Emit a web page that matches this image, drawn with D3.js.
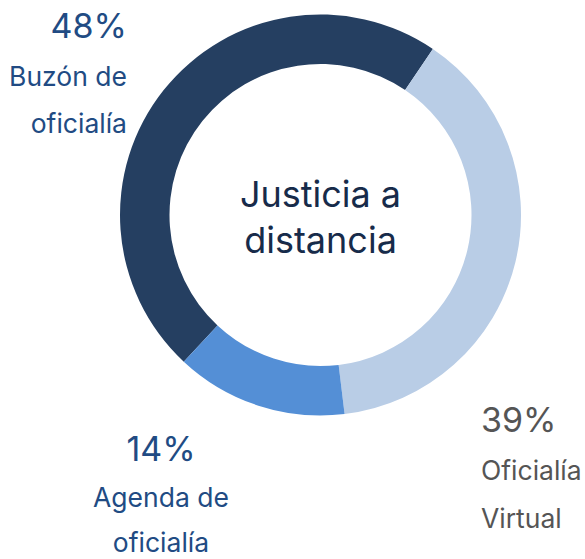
<!DOCTYPE html>
<html>
<head>
<meta charset="utf-8">
<script src="https://cdn.jsdelivr.net/npm/d3@7"></script>
<style>
body { margin: 0; background: #fff; }
text { font-family: Inter, "Open Sans", sans-serif; }
</style>
</head>
<body>
<svg id="Viz"></svg>
<script>
let categories = ["Buzón de oficialía", "Oficialía Virtual", "Agenda de oficialía"];
let values = [48, 39, 14];
let pctLabels = ["48%", "39%", "14%"];
let nameLines = [["Buzón de", "oficialía"], ["Oficialía", "Virtual"], ["Agenda de", "oficialía"]];
let colors = ["#253f61", "#b9cde6", "#548fd6"];
let textColors = ["#214b83", "#555555", "#214b83"];
let centerLines = ["Justicia a", "distancia"];

let Width = 585, Height = 559;
let cx = 320.5, cy = 215;
let outerR = 200.5, innerR = 151;

let vizArea = d3.select('#Viz')
  .attr("width", Width)
  .attr("height", Height);

let pie = d3.pie()
  .sort(null)
  .value(d => d)
  .startAngle(-137 * Math.PI / 180)
  .endAngle(223 * Math.PI / 180);

let arc = d3.arc().innerRadius(innerR).outerRadius(outerR);

let g = vizArea.append("g")
  .attr("transform", "translate(" + cx + "," + cy + ")");

g.selectAll("path")
  .data(pie(values))
  .enter()
  .append("path")
  .attr("d", arc)
  .attr("fill", (d, i) => colors[i]);

// center title
g.selectAll(".center")
  .data(centerLines)
  .enter()
  .append("text")
  .attr("class", "center")
  .attr("text-anchor", "middle")
  .attr("x", 0)
  .attr("y", (d, i) => -8 + i * 46)
  .attr("fill", "#172b4a")
  .style("font-size", "36px")
  .text(d => d);

// outside labels: position + anchor + line gap
let labelPos = [
  {x: 127, y: 38, anchor: "end", gap: 47.5},
  {x: 481, y: 432, anchor: "start", gap: 48},
  {x: 161, y: 461, anchor: "middle", gap: 45.5}
];

let labels = vizArea.selectAll(".lbl")
  .data(categories)
  .enter()
  .append("g")
  .attr("class", "lbl");

labels.append("text")
  .attr("x", (d, i) => labelPos[i].x)
  .attr("y", (d, i) => labelPos[i].y)
  .attr("text-anchor", (d, i) => labelPos[i].anchor)
  .attr("fill", (d, i) => textColors[i])
  .style("font-size", "34px")
  .text((d, i) => pctLabels[i]);

labels.each(function(d, i) {
  d3.select(this).selectAll(".nm")
    .data(nameLines[i])
    .enter()
    .append("text")
    .attr("class", "nm")
    .attr("x", labelPos[i].x)
    .attr("y", (t, j) => labelPos[i].y + (j + 1) * labelPos[i].gap)
    .attr("text-anchor", labelPos[i].anchor)
    .attr("fill", textColors[i])
    .style("font-size", "26.5px")
    .text(t => t);
});
</script>
</body>
</html>
